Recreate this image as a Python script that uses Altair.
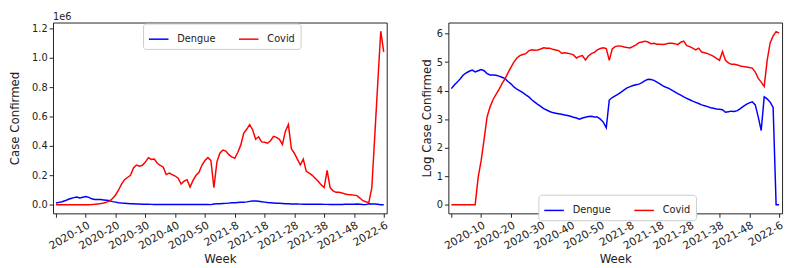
import altair as alt
import pandas as pd

# ---- categories -------------------------------------------------------------
weeks = (["2019-52"]
         + [f"2020-{w}" for w in range(1, 53)]
         + [f"2021-{w}" for w in range(1, 53)]
         + [f"2022-{w}" for w in range(1, 7)])
tick_weeks = ["2019-52", "2020-10", "2020-20", "2020-30", "2020-40", "2020-50",
              "2021-8", "2021-18", "2021-28", "2021-38", "2021-48", "2022-6"]
diseases = ["Dengue", "Covid"]
colors = ["#0000ff", "#ff0000"]

# ---- weekly confirmed cases -------------------------------------------------
dengue = [11750, 15850, 19950, 26300, 35480, 41690, 47860, 52480, 45710, 50120,
          54950, 50120, 39810, 35480, 35480, 34670, 32360, 29510, 26300, 20890,
          17380, 13490, 11220, 9770, 8510, 7080, 6030, 4790, 3980, 3310,
          2820, 2340, 2090, 1860, 1700, 1620, 1550, 1480, 1410, 1350,
          1260, 1170, 1100, 1000, 1100, 1170, 1230, 1260, 1200, 1200,
          1000, 790, 500, 4680, 5750, 6610, 7590, 8910, 10720, 12590,
          13800, 15140, 16220, 16980, 19050, 22390, 25120, 24550, 22910, 19950,
          17380, 14790, 13180, 12020, 10470, 9120, 7940, 6920, 6030, 5370,
          4790, 4270, 3890, 3550, 3160, 2950, 2750, 2510, 2400, 2290,
          2240, 2140, 1740, 1820, 1910, 1860, 2000, 2340, 2820, 3310,
          3720, 4070, 3160, 1200, 400, 6030, 5130, 3980, 2570, 0, 0]
covid = [0, 0, 0, 0, 0, 0, 0, 0, 0, 9,
         35, 200, 1200, 2700, 4900, 7400, 11000, 17500, 26000, 42000,
         66000, 100000, 140000, 170000, 185000, 200000, 250000, 270000, 262000, 268000,
         290000, 320000, 308000, 310000, 282000, 268000, 255000, 205000, 215000, 205000,
         195000, 180000, 140000, 160000, 170000, 120000, 165000, 200000, 220000, 270000,
         300000, 320000, 300000, 115000, 290000, 350000, 372000, 365000, 340000, 325000,
         315000, 355000, 405000, 485000, 513000, 545000, 510000, 445000, 462000, 427000,
         425000, 418000, 435000, 465000, 458000, 445000, 410000, 500000, 545000, 380000,
         350000, 310000, 270000, 310000, 227000, 215000, 200000, 180000, 160000, 135000,
         116000, 234000, 116000, 94000, 84000, 84000, 80000, 73000, 70000, 68000,
         65000, 62000, 45000, 27000, 20000, 14000, 116000, 470000, 830000, 1180000, 1040000]

lin_ticks = [0, 200000, 400000, 600000, 800000, 1000000, 1200000]
log_ticks = [0, 1, 2, 3, 4, 5, 6]

df = pd.DataFrame({
    "week": weeks + weeks,
    "disease": ["Dengue"] * len(weeks) + ["Covid"] * len(weeks),
    "cases": dengue + covid,
})

FONT = "DejaVu Sans"
W, H = 341, 195
LEG_W = 157


def x_enc():
    return alt.X(
        "week:O",
        sort=weeks,
        scale=alt.Scale(type="point", domain=weeks, padding=4.5),
        axis=alt.Axis(
            values=tick_weeks,
            labelExpr="datum.value == '2019-52' ? '' : datum.value",
            labelAngle=-30, labelAlign="right", labelBaseline="top",
            labelOverlap=False, labelFontSize=11, title="Week",
        ),
    )


def color_enc(lx, ly):
    return alt.Color(
        "disease:N",
        scale=alt.Scale(domain=diseases, range=colors),
        legend=alt.Legend(
            title=None, orient="none", legendX=lx, legendY=ly,
            direction="horizontal", columns=2,
            symbolType="stroke", symbolSize=400, symbolStrokeWidth=1.5,
            fillColor="white", strokeColor="#cccccc", cornerRadius=3,
            padding=5, columnPadding=20, labelOffset=8,
            labelFont=FONT, labelFontSize=10, labelColor="#222222",
        ),
    )


left_line = alt.Chart(df).mark_line(strokeWidth=1.5).encode(
    x=x_enc(),
    y=alt.Y("cases:Q",
            scale=alt.Scale(domain=[-59000, 1239000], nice=False, zero=False),
            axis=alt.Axis(values=lin_ticks,
                          labelExpr="format(datum.value / 1000000, '.1f')",
                          title="Case Confirmed", titlePadding=10)),
    color=color_enc(W / 2 - LEG_W / 2, 1),
)

exp_text = alt.Chart(pd.DataFrame({"t": ["1e6"]})).mark_text(
    align="left", baseline="alphabetic", fontSize=10, font=FONT, color="#222222"
).encode(x=alt.value(0), y=alt.value(-3), text="t:N")

left = alt.layer(left_line, exp_text).properties(width=W, height=H)

right = alt.Chart(df).transform_calculate(
    logc="datum.cases > 0 ? log(datum.cases) / LN10 : 0"
).mark_line(strokeWidth=1.5).encode(
    x=x_enc(),
    y=alt.Y("logc:Q",
            scale=alt.Scale(domain=[-0.305, 6.39], nice=False, zero=False),
            axis=alt.Axis(values=log_ticks, format="d",
                          title="Log Case Confirmed")),
    color=color_enc(W / 2 - LEG_W / 2, H - 19),
).properties(width=W, height=H)

chart = alt.hconcat(left, right, spacing=31).resolve_legend(
    color="independent"
).properties(
    padding={"left": 0, "top": 0, "right": 0, "bottom": 0}
).configure_view(
    stroke="#222222", strokeWidth=1
).configure_axis(
    domain=False, grid=False,
    tickColor="#222222", tickSize=4, tickWidth=1,
    labelFont=FONT, labelFontSize=10, labelColor="#222222", labelPadding=2,
    titleFont=FONT, titleFontSize=12, titleFontWeight="normal",
    titleColor="#222222", titlePadding=3,
)

chart.save("out.html", embed_options={"renderer": "svg", "actions": False})
